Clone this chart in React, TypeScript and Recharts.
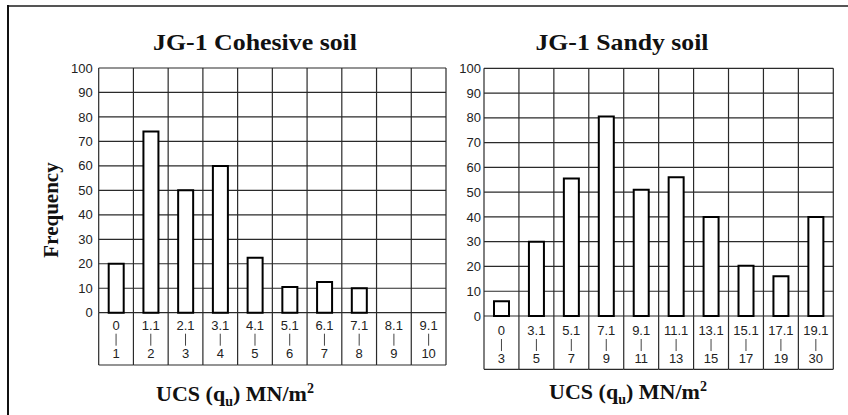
import React from 'react';
import { BarChart, Bar, XAxis, YAxis, CartesianGrid } from 'recharts';

const cohesiveLow = ['0', '1.1', '2.1', '3.1', '4.1', '5.1', '6.1', '7.1', '8.1', '9.1'];
const cohesiveHigh = ['1', '2', '3', '4', '5', '6', '7', '8', '9', '10'];
const cohesiveFrequency = [20, 74, 50, 60, 22.5, 10.5, 12.5, 10, 0, 0];

const sandyLow = ['0', '3.1', '5.1', '7.1', '9.1', '11.1', '13.1', '15.1', '17.1', '19.1'];
const sandyHigh = ['3', '5', '7', '9', '11', '13', '15', '17', '19', '30'];
const sandyFrequency = [6, 30, 55.5, 80.5, 51, 56, 40, 20.3, 16, 40];

const yTicks = [0, 10, 20, 30, 40, 50, 60, 70, 80, 90, 100];

const SANS = '"Liberation Sans", Arial, sans-serif';
const SERIF = '"Liberation Serif", "Times New Roman", serif';
const GRID = '#2a2a2a';
const TEXT = '#222';

type PanelProps = {
  low: string[];
  high: string[];
  values: number[];
  left: number;
  width: number;
  height: number;
  margin: { top: number; right: number; bottom: number; left: number };
  yAxisWidth: number;
  xAxisHeight: number;
  yTickSize: number;
  labelDy: [number, number, number, number];
};

function Panel(p: PanelProps) {
  const n = p.low.length;
  const data = p.low.map((lo, i) => ({ key: `${lo}-${p.high[i]}`, value: p.values[i] }));
  const plotWidth = p.width - p.margin.left - p.margin.right - p.yAxisWidth;
  const half = plotWidth / n / 2;
  const boxH = p.xAxisHeight;

  const renderTick = (props: any) => {
    const { x, y, index } = props;
    const l = x - half;
    const r = x + half;
    return (
      <g>
        <line x1={l} y1={y} x2={l} y2={y + boxH} stroke={GRID} strokeWidth={1.2} />
        {index === n - 1 && <line x1={r} y1={y} x2={r} y2={y + boxH} stroke={GRID} strokeWidth={1.2} />}
        <line x1={l} y1={y + boxH} x2={r} y2={y + boxH} stroke={GRID} strokeWidth={1.2} />
        <text x={x} y={y + p.labelDy[0]} textAnchor="middle" fill={TEXT} fontSize={13} fontFamily={SANS}>
          {p.low[index]}
        </text>
        <line x1={x} y1={y + p.labelDy[1]} x2={x} y2={y + p.labelDy[2]} stroke="#444" strokeWidth={1} />
        <text x={x} y={y + p.labelDy[3]} textAnchor="middle" fill={TEXT} fontSize={13} fontFamily={SANS}>
          {p.high[index]}
        </text>
      </g>
    );
  };

  return (
    <div style={{ position: 'absolute', left: p.left, top: 0 }}>
      <BarChart width={p.width} height={p.height} data={data} margin={p.margin}>
        <CartesianGrid
          stroke={GRID}
          strokeWidth={1.2}
          verticalCoordinatesGenerator={({ offset }: any) =>
            Array.from({ length: n + 1 }, (_, i) => offset.left + (i * offset.width) / n)
          }
        />
        <XAxis
          dataKey="key"
          interval={0}
          height={p.xAxisHeight}
          tickLine={false}
          axisLine={false}
          tickSize={0}
          tickMargin={0}
          tick={renderTick}
        />
        <YAxis
          domain={[0, 100]}
          ticks={yTicks}
          width={p.yAxisWidth}
          tickLine={false}
          axisLine={false}
          tickSize={p.yTickSize}
          tickMargin={0}
          interval={0}
          tick={{ fill: TEXT, fontSize: 13, fontFamily: SANS }}
        />
        <Bar dataKey="value" barSize={15} fill="#fff" stroke="#000" strokeWidth={2} isAnimationActive={false} />
      </BarChart>
    </div>
  );
}

function UcsLabel({ x, y }: { x: number; y: number }) {
  return (
    <text x={x} y={y} textAnchor="middle" fontFamily={SERIF} fontWeight="bold" fontSize={22} fill="#111">
      UCS (q
      <tspan fontSize={14} dy={5}>u</tspan>
      <tspan dy={-5}>) MN/m</tspan>
      <tspan fontSize={14} dy={-8}>2</tspan>
    </text>
  );
}

export default function App() {
  return (
    <div style={{ position: 'absolute', left: 0, top: 0, width: 848, height: 415, background: '#fff', overflow: 'hidden' }}>
      <Panel
        low={cohesiveLow}
        high={cohesiveHigh}
        values={cohesiveFrequency}
        left={0}
        width={450}
        height={370}
        margin={{ top: 68, right: 4, left: 38.7, bottom: 5 }}
        yAxisWidth={60}
        xAxisHeight={52.3}
        yTickSize={6}
        labelDy={[17, 21, 33, 45]}
      />
      <Panel
        low={sandyLow}
        high={sandyHigh}
        values={sandyFrequency}
        left={400}
        width={440}
        height={374}
        margin={{ top: 68.3, right: 6.7, left: 24, bottom: 4.7 }}
        yAxisWidth={60}
        xAxisHeight={53.3}
        yTickSize={3}
        labelDy={[19, 23, 35, 47]}
      />
      <svg width={848} height={415} style={{ position: 'absolute', left: 0, top: 0, pointerEvents: 'none' }}>
        <line x1={8} y1={6} x2={848} y2={6} stroke="#555" strokeWidth={2} />
        <line x1={8} y1={5} x2={8} y2={415} stroke="#111" strokeWidth={2} />
        <text
          x={255}
          y={50}
          textAnchor="middle"
          fontFamily={SERIF}
          fontWeight="bold"
          fontSize={23.5}
          textLength={204}
          lengthAdjust="spacingAndGlyphs"
          fill="#111"
        >
          JG-1 Cohesive soil
        </text>
        <text
          x={622}
          y={50}
          textAnchor="middle"
          fontFamily={SERIF}
          fontWeight="bold"
          fontSize={23.5}
          textLength={173}
          lengthAdjust="spacingAndGlyphs"
          fill="#111"
        >
          JG-1 Sandy soil
        </text>
        <text
          x={58}
          y={210}
          textAnchor="middle"
          transform="rotate(-90 58 210)"
          fontFamily={SERIF}
          fontWeight="bold"
          fontSize={21}
          fill="#111"
        >
          Frequency
        </text>
        <UcsLabel x={235} y={401} />
        <UcsLabel x={628} y={399} />
      </svg>
    </div>
  );
}
